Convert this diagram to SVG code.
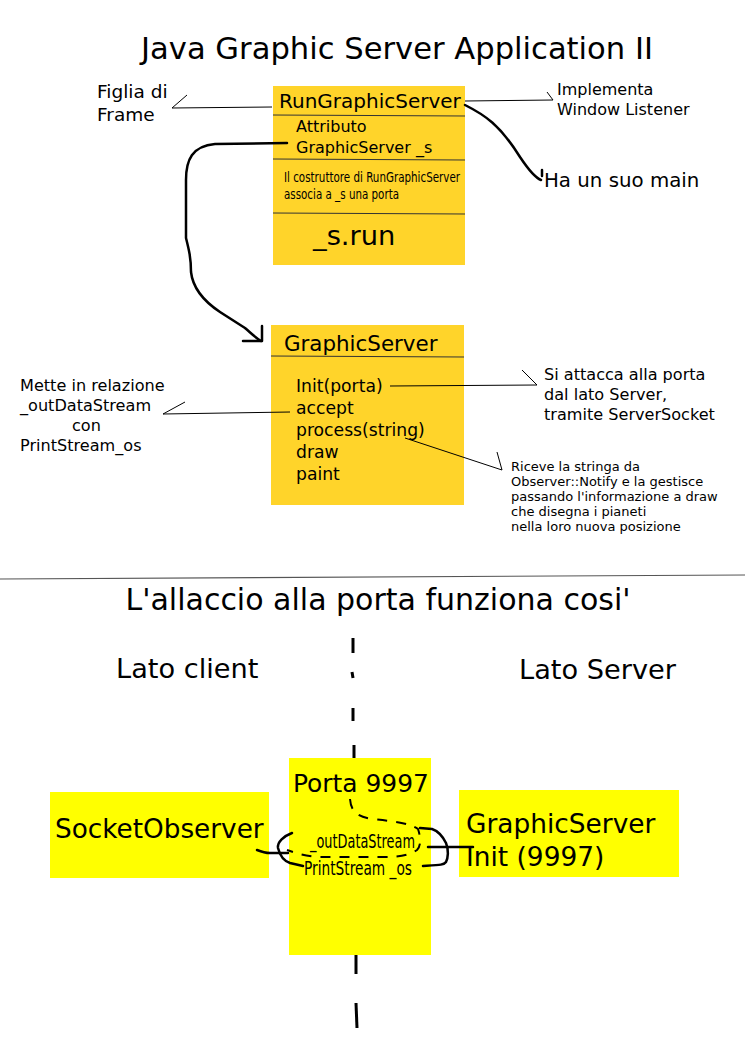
<svg xmlns="http://www.w3.org/2000/svg" width="745" height="1053" viewBox="0 0 745 1053">
<style>
text{font-family:"DejaVu Sans","Liberation Sans",sans-serif;fill:#000}
.thin{stroke:#000;stroke-width:1;fill:none}
.thick{stroke:#000;stroke-width:2.5;fill:none;stroke-linecap:round;stroke-linejoin:round}
.dash{stroke:#000;stroke-width:3;fill:none}
.sep{stroke:#333;stroke-width:1}
.uml{fill:#ffd42a}
.yel{fill:#ffff00}
</style>
<rect width="745" height="1053" fill="#fff"/>
<text x="397" y="59" font-size="30.6" text-anchor="middle">Java Graphic Server Application II</text>

<g id="runGraphicServer">
<rect class="uml" x="273" y="86" width="192" height="179"/>
<line class="sep" x1="273" y1="115" x2="465" y2="116"/>
<line class="sep" x1="273" y1="159" x2="465" y2="160"/>
<line class="sep" x1="273" y1="213" x2="465" y2="214"/>
<text x="279" y="108" font-size="20">RunGraphicServer</text>
<text x="296" y="132" font-size="16">Attributo</text>
<text x="296" y="153" font-size="16">GraphicServer _s</text>
<text x="284" y="182" font-size="14.5" textLength="176" lengthAdjust="spacingAndGlyphs">Il costruttore di RunGraphicServer</text>
<text x="284" y="199" font-size="14.5" textLength="115" lengthAdjust="spacingAndGlyphs">associa a _s una porta</text>
<text x="313" y="245" font-size="27.3">_s.run</text>
</g>

<g id="graphicServer">
<rect class="uml" x="271" y="325" width="193" height="180"/>
<line class="sep" x1="271" y1="356" x2="464" y2="357"/>
<text x="284" y="351" font-size="21.4">GraphicServer</text>
<text x="296" y="392" font-size="17.2">Init(porta)</text>
<text x="296" y="414" font-size="17.2">accept</text>
<text x="296" y="436" font-size="17.2">process(string)</text>
<text x="296" y="458" font-size="17.2">draw</text>
<text x="296" y="480" font-size="17.2">paint</text>
</g>

<g id="noteFiglia">
<text x="97" y="98" font-size="18.5">Figlia di</text>
<text x="97" y="121" font-size="18.5">Frame</text>
</g>
<g id="noteImplementa">
<text x="557" y="95" font-size="16">Implementa</text>
<text x="557" y="115" font-size="16">Window Listener</text>
</g>
<g id="noteMain">
<text x="544" y="187" font-size="19.8">Ha un suo main</text>
</g>
<g id="noteAttacca">
<text x="544" y="380" font-size="16.1">Si attacca alla porta</text>
<text x="544" y="400" font-size="16.1">dal lato Server,</text>
<text x="544" y="420" font-size="16.1">tramite ServerSocket</text>
</g>
<g id="noteRiceve">
<text x="511" y="471" font-size="13">Riceve la stringa da</text>
<text x="511" y="486" font-size="13">Observer::Notify e la gestisce</text>
<text x="511" y="501" font-size="13">passando l'informazione a draw</text>
<text x="511" y="516" font-size="13">che disegna i pianeti</text>
<text x="511" y="531" font-size="13">nella loro nuova posizione</text>
</g>
<g id="noteMette">
<text x="20" y="391" font-size="16.1">Mette in relazione</text>
<text x="20" y="411" font-size="16.1">_outDataStream</text>
<text x="72" y="431" font-size="16.1">con</text>
<text x="20" y="451" font-size="16.1">PrintStream_os</text>
</g>

<line x1="0" y1="579" x2="745" y2="575" stroke="#555" stroke-width="1.2"/>
<text x="378" y="610" font-size="30" text-anchor="middle">L'allaccio alla porta funziona cosi'</text>
<text x="116" y="678" font-size="27.2">Lato client</text>
<text x="519" y="679" font-size="27.2">Lato Server</text>

<g id="axis">
<line class="dash" x1="353" y1="638" x2="353" y2="653"/>
<line class="dash" x1="352" y1="672" x2="353" y2="678"/>
<line class="dash" x1="353" y1="708" x2="353" y2="721"/>
<line class="dash" x1="354" y1="745" x2="354" y2="760"/>
<line class="dash" x1="356" y1="955" x2="356" y2="974"/>
<line class="dash" x1="356" y1="1003" x2="357" y2="1028"/>
</g>

<g id="porta">
<rect class="yel" x="289" y="758" width="142" height="197"/>
<text x="293" y="792" font-size="24.9">Porta 9997</text>
<text x="310" y="848" font-size="20" textLength="105" lengthAdjust="spacingAndGlyphs">_outDataStream</text>
<text x="304" y="875" font-size="20" textLength="108" lengthAdjust="spacingAndGlyphs">PrintStream _os</text>
</g>
<g id="socketObserver">
<rect class="yel" x="50" y="792" width="219" height="86"/>
<text x="55" y="838" font-size="26.3">SocketObserver</text>
</g>
<g id="graphicServerInit">
<rect class="yel" x="459" y="790" width="220" height="87"/>
<text x="466" y="833" font-size="26.4">GraphicServer</text>
<text x="466" y="866" font-size="26.4">Init (9997)</text>
</g>

<g id="connectors">
<polyline class="thin" points="187,95 172,108 272,107"/>
<polyline class="thin" points="547,92 553,100 465,101"/>
<path class="thick" d="M465,105 C485,115 500,125 520,157 C530,172 536,178 541,180"/>
<line class="thick" x1="542" y1="170" x2="542" y2="176" stroke-width="2"/>
<path class="thick" d="M287,143 L215,144 C192,146 186,160 186,180 L186,238 C189,250 191,258 191,272 C193,290 205,302 220,312 L245,328 C252,334 256,338 261,341"/>
<polyline class="thick" points="243,341 262,341 262,326" stroke-width="2"/>
<polyline class="thin" points="522,370 537,385 390,386"/>
<polyline class="thin" points="497,452 502,470 405,438"/>
<polyline class="thin" points="185,402 163,414 290,412"/>

<path d="M350,799 C351,812 358,817 372,819 C392,821 410,823 418,829 C421,838 421,846 417,850 C410,855 400,857 385,857 L320,857 C305,856 295,853 287,850" stroke="#000" stroke-width="2" fill="none" stroke-dasharray="10,9"/>
<path class="thick" d="M257,850 C262,852 266,853 270,853 L288,853" stroke-width="2"/>
<path class="thick" d="M292,833 C284,836 277,842 278,848 C280,856 284,861 290,863 L303,866" stroke-width="1.8"/>
<path class="thick" d="M420,828 L432,829 C438,831 442,835 446,843 C449,850 448,858 446,862 C444,865 440,865 423,866" stroke-width="2"/>
<line class="thick" x1="428" y1="847" x2="473" y2="847" stroke-width="2"/>
</g>
</svg>
